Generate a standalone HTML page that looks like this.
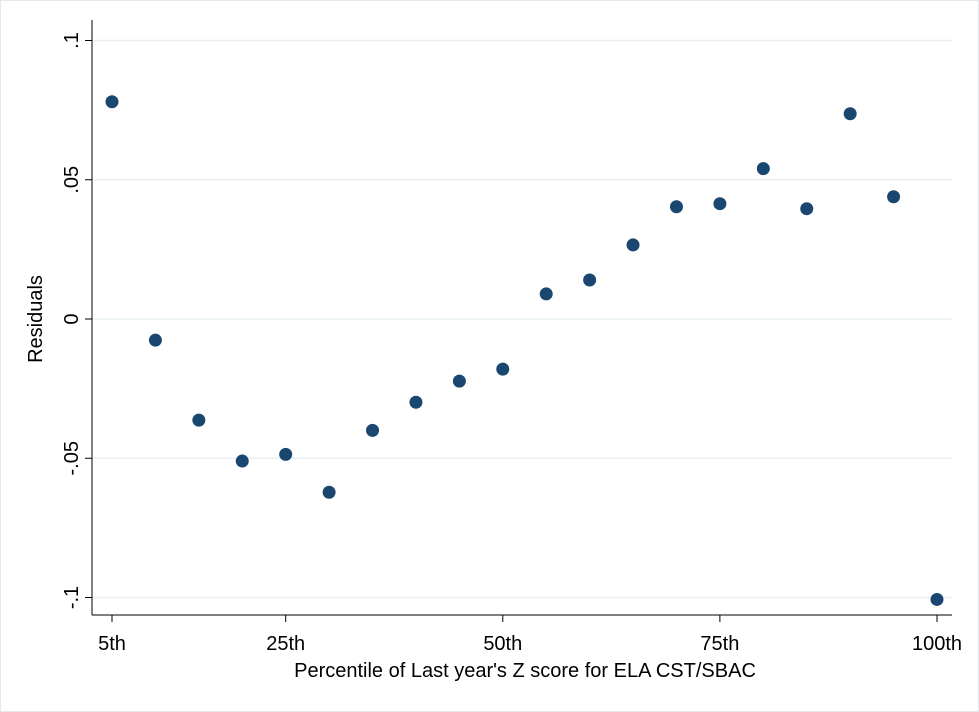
<!DOCTYPE html>
<html><head><meta charset="utf-8"><style>
body{margin:0;background:#fff}
svg{display:block;font-family:"Liberation Sans",Arial,sans-serif}
</style></head><body>
<svg id="chart" width="979" height="712">
<rect x="0.5" y="0.5" width="978" height="711" fill="#fff" stroke="#e4e8ec"/>
<g id="grid"></g>
<g id="axes"></g>
<g id="pts"></g>
<text x="42" y="319" transform="rotate(-90 42 319)" text-anchor="middle" font-size="20" fill="#000">Residuals</text>
<text x="525" y="677" text-anchor="middle" font-size="20" fill="#000">Percentile of Last year's Z score for ELA CST/SBAC</text>
</svg>
<script>
const pct=[5,10,15,20,25,30,35,40,45,50,55,60,65,70,75,80,85,90,95,100];
const resid=[0.078,-0.0076,-0.0363,-0.051,-0.0486,-0.0622,-0.040,-0.0299,-0.0223,-0.018,0.009,0.014,0.0266,0.0403,0.0414,0.054,0.0396,0.0737,0.0439,-0.1007];
const yTicks=[0.1,0.05,0,-0.05,-0.1];
const yTickLabels=[".1",".05","0","-.05","-.1"];
const xTicks=[5,25,50,75,100];
const xTickLabels=["5th","25th","50th","75th","100th"];
const NS="http://www.w3.org/2000/svg";
const X=v=>112+(v-5)*(937-112)/95;
const Y=v=>319-v*2785;
function mk(t,a,p){const e=document.createElementNS(NS,t);for(const k in a)e.setAttribute(k,a[k]);p.appendChild(e);return e;}
const grid=document.getElementById('grid'),axes=document.getElementById('axes'),pts=document.getElementById('pts');
yTicks.forEach((v,i)=>{
 const g=mk('line',{x1:92,x2:952,y1:Y(v),y2:Y(v),stroke:'#eaf0f2','stroke-width':1.5},grid);
 
 
 const t=mk('line',{x1:85,x2:92,y1:Y(v),y2:Y(v),stroke:'#000','stroke-width':1},axes);
 
 
 const l=mk('text',{x:78,y:Y(v),transform:`rotate(-90 78 ${Y(v)})`,'text-anchor':'middle','font-size':20},axes);
 l.textContent=yTickLabels[i];
 
 
});
const ya=mk('line',{x1:92,x2:92,y1:20,y2:615,stroke:'#000','stroke-width':1},axes);


const xa=mk('line',{x1:92,x2:952,y1:615,y2:615,stroke:'#000','stroke-width':1},axes);


xTicks.forEach((v,i)=>{
 const t=mk('line',{x1:X(v),x2:X(v),y1:615,y2:622,stroke:'#000','stroke-width':1},axes);
 
 
 const l=mk('text',{x:X(v),y:650,'text-anchor':'middle','font-size':20},axes);
 l.textContent=xTickLabels[i];
 
 
});
pct.forEach((p,i)=>{
 const c=mk('circle',{cx:X(p),cy:Y(resid[i]),r:6.5,fill:'#1a476f'},pts);
 
 
});
</script>
</body></html>
